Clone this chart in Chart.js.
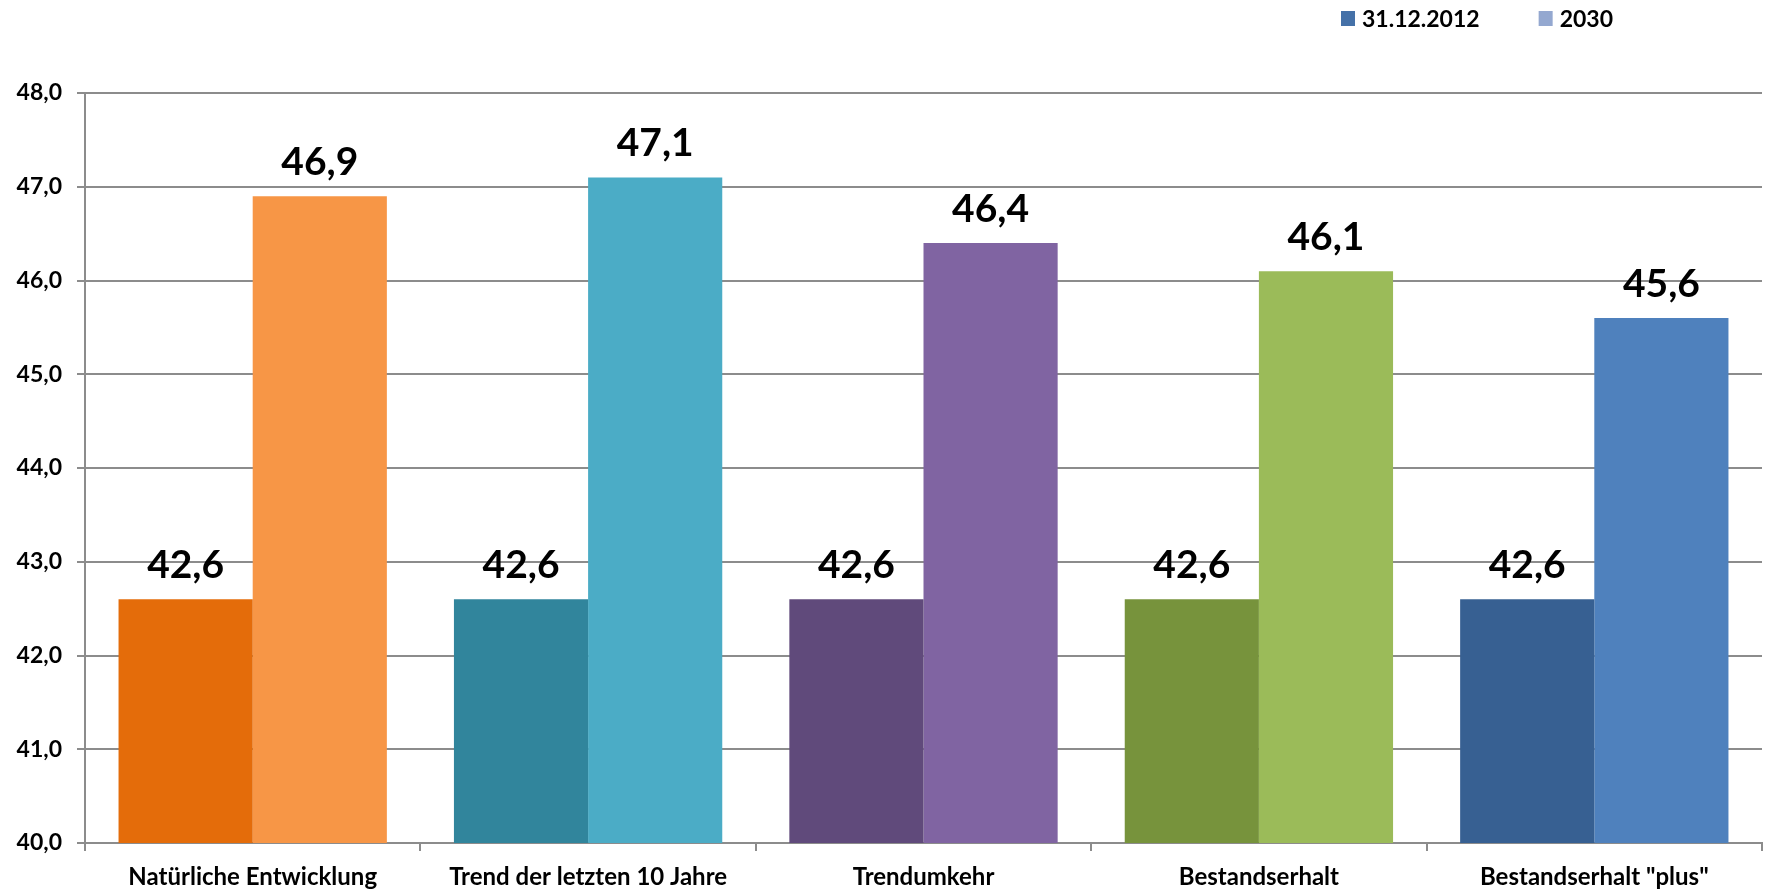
<!DOCTYPE html>
<html>
<head>
<meta charset="utf-8">
<title>Durchschnittsalter nach Szenario</title>
<script src="https://cdn.jsdelivr.net/npm/chart.js@4/dist/chart.umd.min.js"></script>
<style>
  html, body { margin: 0; padding: 0; background: #fff; }
  #wrap { width: 1768px; height: 891px; }
</style>
</head>
<body>
<div id="wrap"><canvas id="c" width="1768" height="891"></canvas></div>
<script>
// Szenarien (Kategorien)
const categories = [
  'Natürliche Entwicklung',
  'Trend der letzten 10 Jahre',
  'Trendumkehr',
  'Bestandserhalt',
  'Bestandserhalt "plus"'
];
// Durchschnittsalter am Stichtag und Prognose 2030
const seriesNames = ['31.12.2012', '2030'];
const values2012 = [42.6, 42.6, 42.6, 42.6, 42.6];
const values2030 = [46.9, 47.1, 46.4, 46.1, 45.6];
const yTicks = { min: 40, max: 48, step: 1 };

// Farben je Szenario: dunkel = 2012, hell = 2030
const darkColors  = ['#E46C0A', '#31859C', '#604A7B', '#77933C', '#376092'];
const lightColors = ['#F79646', '#4BACC6', '#8064A2', '#9BBB59', '#4F81BD'];
const legendColors = ['#4571A8', '#94A8D0'];

const FONT = 'Lato, "Open Sans", "DejaVu Sans", sans-serif';
const fmt = v => v.toFixed(1).replace('.', ',');

// Wertebeschriftungen über den Balken
const valueLabels = {
  id: 'valueLabels',
  afterDatasetsDraw(chart) {
    const ctx = chart.ctx;
    ctx.save();
    ctx.font = 'bold 39px ' + FONT;
    ctx.fillStyle = '#000';
    ctx.textAlign = 'center';
    ctx.textBaseline = 'alphabetic';
    chart.data.datasets.forEach((ds, i) => {
      chart.getDatasetMeta(i).data.forEach((bar, j) => {
        ctx.fillText(fmt(ds.data[j]), bar.x, bar.y - 21);
      });
    });
    ctx.restore();
  }
};

// Legende oben rechts
const topLegend = {
  id: 'topLegend',
  afterDraw(chart) {
    const ctx = chart.ctx;
    ctx.save();
    ctx.font = 'bold 23px ' + FONT;
    ctx.textBaseline = 'middle';
    ctx.textAlign = 'left';
    let x = 1341;
    const y = 18.5;
    chart.data.datasets.forEach((ds, i) => {
      ctx.fillStyle = legendColors[i];
      ctx.fillRect(x, y - 7.5, 14, 15);
      ctx.fillStyle = '#000';
      ctx.fillText(ds.label, x + 21, y + 1);
      x += 21 + ctx.measureText(ds.label).width + 59;
    });
    ctx.restore();
  }
};

new Chart(document.getElementById('c'), {
  type: 'bar',
  data: {
    labels: categories,
    datasets: [
      { label: seriesNames[0], data: values2012, backgroundColor: darkColors },
      { label: seriesNames[1], data: values2030, backgroundColor: lightColors }
    ]
  },
  options: {
    responsive: false,
    animation: false,
    events: [],
    layout: { padding: { top: 93, right: 6, left: 0, bottom: 0 } },
    datasets: { bar: { categoryPercentage: 0.8, barPercentage: 1.0, borderWidth: 0 } },
    plugins: { legend: { display: false }, tooltip: { enabled: false } },
    scales: {
      x: {
        afterFit(s) { s.height = 48; },
        grid: { offset: true, drawOnChartArea: false, drawTicks: true, tickLength: 8, color: '#8c8c8c', lineWidth: 2 },
        border: { color: '#8c8c8c', width: 2 },
        ticks: { color: '#000', font: { family: FONT, size: 24, weight: 'bold' }, padding: 12, maxRotation: 0, autoSkip: false }
      },
      y: {
        min: yTicks.min,
        max: yTicks.max,
        afterFit(s) { s.width = 85; },
        grid: { color: '#8c8c8c', lineWidth: 2, tickLength: 8 },
        border: { color: '#8c8c8c', width: 2 },
        ticks: {
          stepSize: yTicks.step,
          color: '#000',
          font: { family: FONT, size: 23, weight: 'bold' },
          padding: 15,
          callback: v => fmt(v)
        }
      }
    }
  },
  plugins: [valueLabels, topLegend]
});
</script>
</body>
</html>
